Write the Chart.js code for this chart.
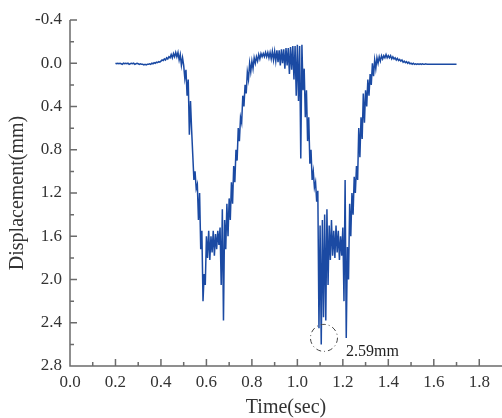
<!DOCTYPE html>
<html>
<head>
<meta charset="utf-8">
<script src="https://cdn.jsdelivr.net/npm/chart.js@4.4.0/dist/chart.umd.min.js"></script>
<style>
  body { margin: 0; background: #fff; }
</style>
</head>
<body>
<canvas id="disp" width="502" height="418"></canvas>
<script>
// sampled record, 200 Hz from 0.2 s
const startTime = 0.2
const sampleStep = 0.005

// displacement in mm, one row = 0.1 s
const displacement = [
    0.00, 0.005, 0.00, 0.005, 0.00, 0.005, 0.01, 0.00, 0.005, 0.00, 0.005, 0.00, 0.01, 0.005, 0.00, 0.005, 0.00, 0.01, 0.005, 0.00,
    0.005, 0.01, 0.005, 0.01, 0.01, 0.015, 0.01, 0.015, 0.01, 0.01, 0.005, 0.01, 0.00, 0.005, -0.005, 0.00, -0.01, -0.005, -0.015, -0.01,
    -0.02, -0.03, -0.025, -0.04, -0.03, -0.05, -0.04, -0.06, -0.05, -0.08, -0.05, -0.09, -0.06, -0.10, -0.06, -0.10, -0.03, -0.08, 0.02, -0.05,
    0.02, 0.14, 0.06, 0.30, 0.15, 0.66, 0.35, 0.62, 0.85, 1.08, 1.00, 1.16, 1.12, 1.45, 1.20, 1.72, 1.55, 2.20, 1.95, 2.05,
    1.60, 1.80, 1.55, 1.82, 1.60, 1.75, 1.55, 1.78, 1.58, 1.72, 1.55, 1.68, 1.52, 2.05, 1.35, 2.38, 1.45, 1.72, 1.30, 1.60,
    1.25, 1.45, 1.10, 1.30, 0.95, 1.10, 0.80, 0.90, 0.60, 0.72, 0.50, 0.55, 0.30, 0.40, 0.20, 0.28, 0.08, 0.15, 0.00, 0.08,
    -0.02, 0.05, -0.05, 0.00, -0.06, -0.02, -0.08, -0.04, -0.09, -0.06, -0.09, -0.06, -0.10, -0.06, -0.10, -0.05, -0.10, -0.04, -0.11, -0.03,
    -0.11, -0.02, -0.12, -0.01, -0.12, 0.02, -0.13, 0.00, -0.13, 0.05, -0.14, 0.02, -0.14, 0.10, -0.15, 0.06, -0.16, 0.15, -0.16, 0.30,
    -0.17, 0.35, -0.16, 0.88, -0.17, 0.25, 0.05, 0.50, 0.25, 0.72, 0.50, 0.93, 0.80, 1.08, 1.00, 1.15, 1.10, 1.28, 1.18, 2.45,
    1.50, 2.60, 1.45, 2.35, 1.40, 2.38, 1.35, 2.05, 1.50, 1.82, 1.45, 1.78, 1.55, 1.80, 1.50, 1.75, 1.55, 1.82, 1.60, 1.78,
    1.52, 2.20, 1.08, 2.54, 1.70, 2.00, 1.30, 1.60, 1.20, 1.40, 1.05, 1.20, 0.95, 1.08, 0.60, 0.87, 0.50, 0.70, 0.28, 0.55,
    0.25, 0.40, 0.15, 0.30, 0.10, 0.20, 0.00, 0.12, -0.03, 0.05, -0.05, 0.00, -0.06, -0.02, -0.07, -0.04, -0.07, -0.05, -0.08, -0.05,
    -0.07, -0.05, -0.07, -0.04, -0.06, -0.04, -0.05, -0.03, -0.045, -0.025, -0.035, -0.02, -0.03, -0.01, -0.02, -0.005, -0.015, 0.00, -0.01, 0.005,
    0.00, 0.01, 0.00, 0.01, 0.005, 0.01, 0.005, 0.01, 0.005, 0.01, 0.005, 0.01, 0.01, 0.005, 0.01, 0.01, 0.01, 0.01, 0.01, 0.01,
    0.01, 0.01, 0.01, 0.01, 0.01, 0.01, 0.01, 0.01, 0.01, 0.01, 0.01, 0.01, 0.01, 0.01, 0.01, 0.01, 0.01, 0.01, 0.01, 0.01,
    0.01
]

const xTicks = [0.0, 0.2, 0.4, 0.6, 0.8, 1.0, 1.2, 1.4, 1.6, 1.8]
const xMinorTicks = [0.1, 0.3, 0.5, 0.7, 0.9, 1.1, 1.3, 1.5, 1.7]
const yTicks = [-0.4, 0.0, 0.4, 0.8, 1.2, 1.6, 2.0, 2.4, 2.8]
const yMinorTicks = [-0.2, 0.2, 0.6, 1.0, 1.4, 1.8, 2.2, 2.6]

// marked peak
const peakTime = 1.117
const peakDisp = 2.54
const peakText = '2.59mm'

const points = displacement.map((d, i) => ({ x: startTime + i * sampleStep, y: d }))

const axisColor = '#6b6b6b'
const fontFamily = '"Liberation Serif", "Times New Roman", serif'

// Chart.js can't do inward/minor ticks, so draw the axes here
const inwardAxes = {
    id: 'inwardAxes',
    afterDraw(chart) {
        const { ctx, chartArea: a, scales: { x, y } } = chart
        ctx.save()
        ctx.strokeStyle = axisColor
        ctx.lineWidth = 1.5
        ctx.beginPath()
        ctx.moveTo(a.left, y.getPixelForValue(-0.4))
        ctx.lineTo(a.left, a.bottom)
        ctx.lineTo(a.right, a.bottom)
        xTicks.forEach(v => {
            const px = x.getPixelForValue(v)
            ctx.moveTo(px, a.bottom)
            ctx.lineTo(px, a.bottom - 7)
        })
        xMinorTicks.forEach(v => {
            const px = x.getPixelForValue(v)
            ctx.moveTo(px, a.bottom)
            ctx.lineTo(px, a.bottom - 4)
        })
        yTicks.forEach(v => {
            const py = y.getPixelForValue(v)
            ctx.moveTo(a.left, py)
            ctx.lineTo(a.left + 7, py)
        })
        yMinorTicks.forEach(v => {
            const py = y.getPixelForValue(v)
            ctx.moveTo(a.left, py)
            ctx.lineTo(a.left + 4, py)
        })
        ctx.stroke()

        // dashed circle + label for the peak
        const cx = x.getPixelForValue(peakTime)
        const cy = y.getPixelForValue(peakDisp)
        ctx.strokeStyle = '#444'
        ctx.lineWidth = 1
        ctx.setLineDash([5, 3, 1, 3])
        ctx.beginPath()
        ctx.arc(cx, cy, 13.5, 0, Math.PI * 2)
        ctx.stroke()
        ctx.setLineDash([])
        ctx.fillStyle = '#222'
        ctx.font = '16px ' + fontFamily
        ctx.textAlign = 'left'
        ctx.textBaseline = 'middle'
        ctx.fillText(peakText, cx + 22, cy + 14)
        ctx.restore()
    }
}

const ctx = document.getElementById('disp').getContext('2d')

const dispChart = new Chart(ctx, {
    type: 'line',
    data: {
        datasets: [{
            data: points,
            borderColor: '#1b4aa3',
            borderWidth: 1.5,
            pointRadius: 0,
            tension: 0,
            fill: false,
        }]
    },
    options: {
        responsive: false,
        animation: false,
        layout: { padding: { top: 20, right: 0, left: 0, bottom: 0 } },
        plugins: {
            legend: { display: false },
            tooltip: { enabled: false },
        },
        scales: {
            x: {
                type: 'linear',
                min: 0,
                max: 1.9,
                grid: { display: false, drawTicks: false },
                border: { display: false },
                afterBuildTicks: scale => { scale.ticks = xTicks.map(v => ({ value: v })) },
                afterFit: scale => { scale.height = 52 },
                ticks: {
                    padding: 6,
                    color: '#333',
                    font: { family: fontFamily, size: 17 },
                    callback: v => v.toFixed(1),
                },
                title: {
                    display: true,
                    text: 'Time(sec)',
                    color: '#333',
                    font: { family: fontFamily, size: 20 },
                    padding: { top: 0, bottom: -2 },
                },
            },
            y: {
                type: 'linear',
                reverse: true,
                min: -0.4,
                max: 2.8,
                grid: { display: false, drawTicks: false },
                border: { display: false },
                afterBuildTicks: scale => { scale.ticks = yTicks.map(v => ({ value: v })) },
                afterFit: scale => { scale.width = 70 },
                ticks: {
                    padding: 8,
                    color: '#333',
                    font: { family: fontFamily, size: 17 },
                    callback: v => v.toFixed(1),
                },
                title: {
                    display: true,
                    text: 'Displacement(mm)',
                    color: '#333',
                    font: { family: fontFamily, size: 20 },
                    padding: { top: 6, bottom: 0 },
                },
            },
        },
    },
    plugins: [inwardAxes],
})
</script>
</body>
</html>
